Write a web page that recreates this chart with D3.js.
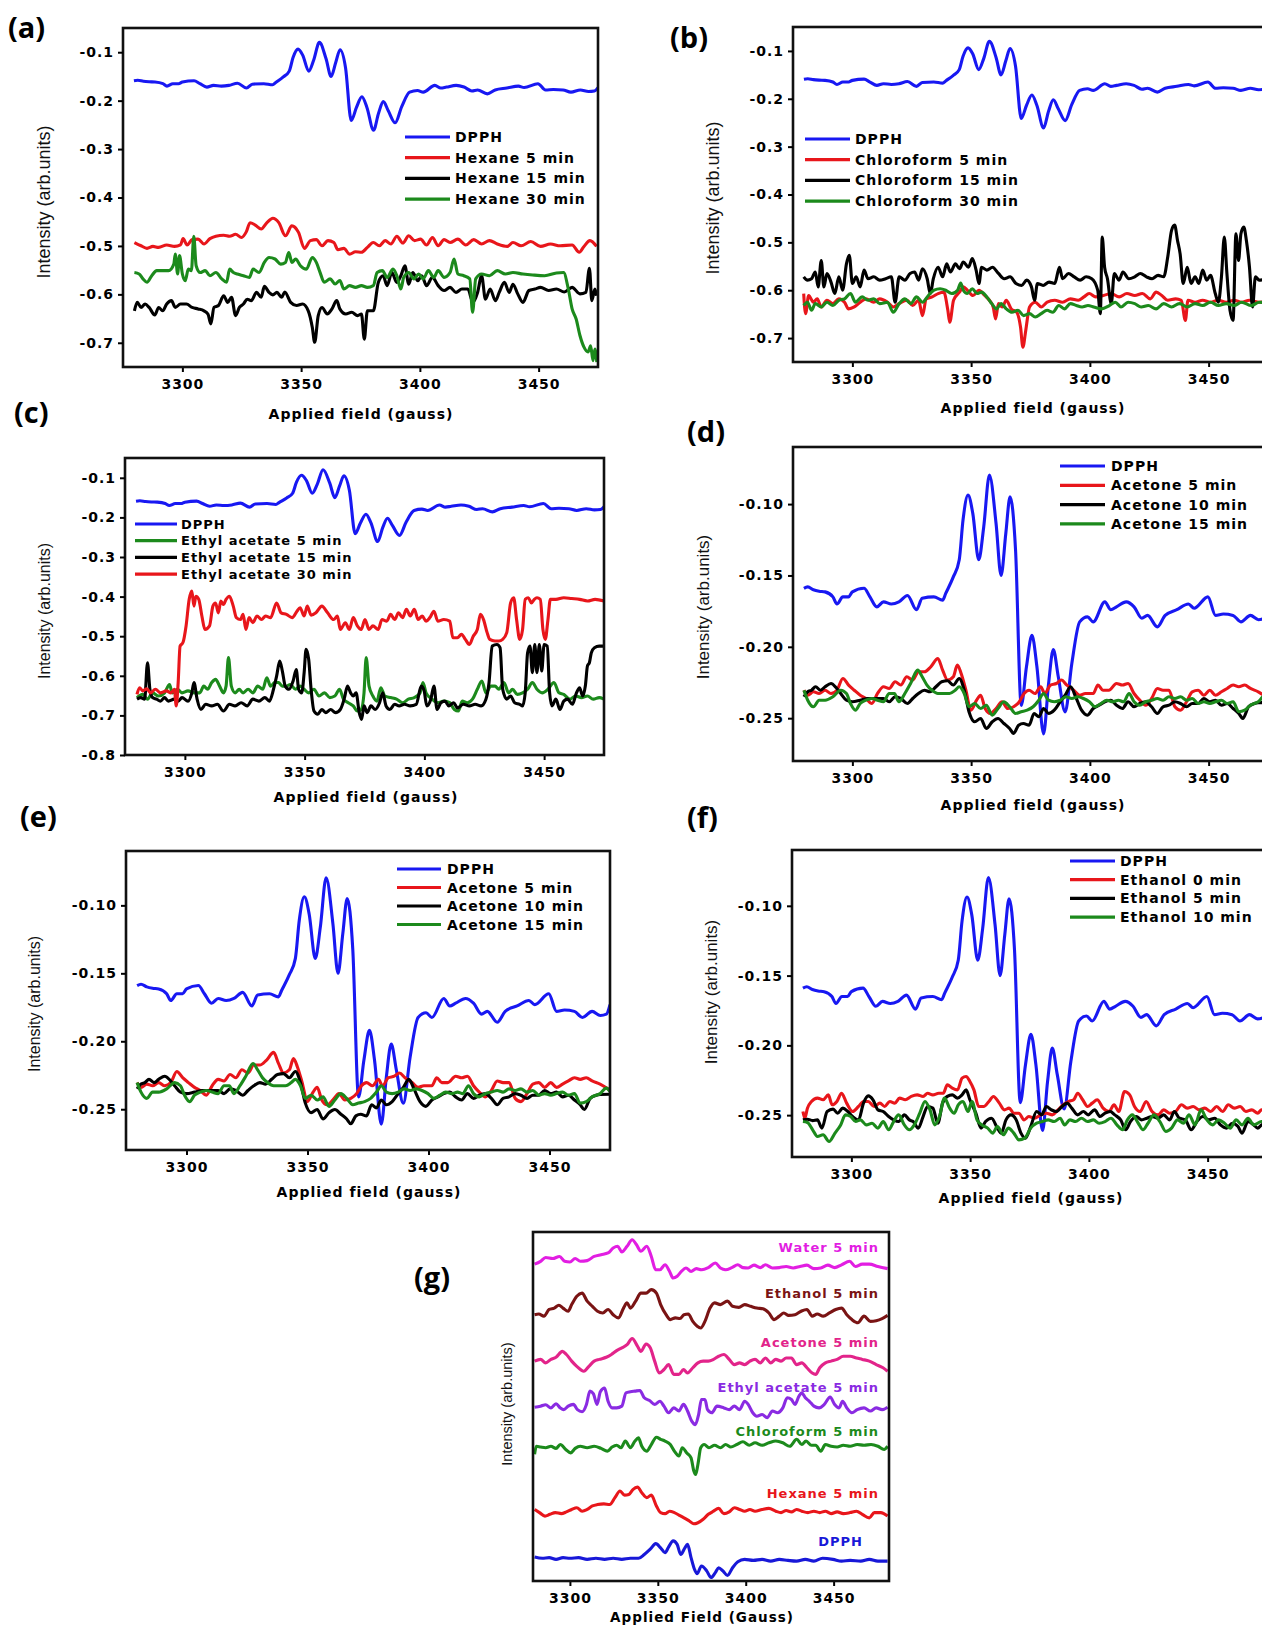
<!DOCTYPE html>
<html>
<head>
<meta charset="utf-8">
<script src="https://cdn.jsdelivr.net/npm/d3@7"></script>
<style>
  body { margin: 0; background: #fff; }
  svg { display: block; }
</style>
</head>
<body>
<svg id="fig" width="1262" height="1628"></svg>
<script>
// ---- data: [field (gauss), intensity] ----
const dpph = [[3279.6,-0.159],[3281.2,-0.158],[3283.6,-0.160],[3286,-0.161],[3288.5,-0.1615],[3291.8,-0.165],[3293.5,-0.170],[3296,-0.165],[3298.4,-0.165],[3300,-0.1615],[3304.9,-0.159],[3307.4,-0.165],[3310.3,-0.172],[3313.1,-0.1685],[3316.4,-0.170],[3319.6,-0.1685],[3323.2,-0.164],[3327,-0.174],[3329.4,-0.166],[3334.3,-0.165],[3338,-0.1673],[3339.3,-0.1626],[3342.5,-0.151],[3345,-0.139],[3346.6,-0.111],[3348.7,-0.0937],[3350.7,-0.1065],[3353.2,-0.139],[3355.3,-0.116],[3357.7,-0.0797],[3360.5,-0.1136],[3362.6,-0.150],[3364.6,-0.1206],[3366.4,-0.0949],[3368.7,-0.132],[3371.1,-0.241],[3373.3,-0.214],[3375.6,-0.192],[3377.7,-0.214],[3380.5,-0.261],[3382.6,-0.226],[3384.6,-0.202],[3386.7,-0.221],[3389.6,-0.2456],[3392.4,-0.2117],[3395.7,-0.1825],[3399,-0.179],[3401.4,-0.1825],[3406.3,-0.1685],[3408.8,-0.174],[3411.2,-0.172],[3415.3,-0.1685],[3418.6,-0.172],[3421.9,-0.180],[3424.3,-0.178],[3428.4,-0.186],[3431.7,-0.178],[3436.6,-0.174],[3441.5,-0.170],[3443.9,-0.173],[3449.7,-0.165],[3452.9,-0.178],[3456.2,-0.177],[3460.3,-0.178],[3463.6,-0.1825],[3467.6,-0.178],[3471,-0.181],[3473.5,-0.180],[3475,-0.173]];

const hexane5 = [[3279.8,-0.493],[3282.6,-0.4997],[3285.1,-0.505],[3287.6,-0.501],[3290,-0.503],[3293.4,-0.498],[3296.7,-0.501],[3299.2,-0.498],[3300.3,-0.485],[3302,-0.498],[3304.1,-0.487],[3306.6,-0.486],[3309.1,-0.496],[3311.6,-0.485],[3314.1,-0.480],[3317.4,-0.478],[3319.9,-0.480],[3322.4,-0.476],[3324.9,-0.4826],[3326.9,-0.471],[3328.5,-0.452],[3330.7,-0.457],[3333.2,-0.465],[3335.6,-0.452],[3338.1,-0.443],[3340.6,-0.452],[3343.4,-0.479],[3346.1,-0.4585],[3348.9,-0.472],[3351.4,-0.505],[3353.9,-0.489],[3356.4,-0.487],[3358.8,-0.4997],[3361.3,-0.489],[3363.8,-0.493],[3365.5,-0.508],[3368,-0.505],[3370.4,-0.517],[3372.9,-0.512],[3375.4,-0.513],[3377.9,-0.503],[3380.4,-0.493],[3382.9,-0.4997],[3385.4,-0.489],[3387.8,-0.496],[3390.3,-0.480],[3392.8,-0.494],[3395.3,-0.479],[3397.8,-0.489],[3400.3,-0.486],[3402.8,-0.498],[3405.3,-0.4826],[3407.7,-0.4997],[3410.2,-0.487],[3412.7,-0.493],[3416,-0.486],[3419.3,-0.498],[3422.7,-0.487],[3426,-0.496],[3429.3,-0.489],[3432.6,-0.496],[3436.8,-0.501],[3439.2,-0.493],[3442.6,-0.4997],[3446.7,-0.491],[3450.8,-0.501],[3455,-0.496],[3459.1,-0.4997],[3464.1,-0.498],[3467.1,-0.513],[3469.1,-0.501],[3471.6,-0.489],[3474.4,-0.501]];

const hexane15 = [[3279.8,-0.634],[3281,-0.6165],[3282.6,-0.627],[3284.3,-0.620],[3286,-0.627],[3288.4,-0.6426],[3290,-0.627],[3291.7,-0.634],[3293.4,-0.620],[3295.4,-0.613],[3297,-0.627],[3299.2,-0.620],[3301.7,-0.620],[3304.1,-0.627],[3306.6,-0.630],[3309.1,-0.634],[3310.8,-0.641],[3312,-0.661],[3313.3,-0.627],[3315.2,-0.623],[3317.4,-0.603],[3319.1,-0.6165],[3320.7,-0.606],[3322.4,-0.644],[3324,-0.627],[3325.7,-0.620],[3327.3,-0.610],[3329,-0.613],[3331.2,-0.596],[3333.2,-0.606],[3334.5,-0.5835],[3336.5,-0.596],[3338.1,-0.601],[3339.8,-0.596],[3341.8,-0.606],[3343.1,-0.595],[3345.6,-0.6165],[3348.1,-0.623],[3350.6,-0.620],[3353,-0.634],[3354.7,-0.668],[3355.7,-0.699],[3357.2,-0.644],[3358.8,-0.627],[3361,-0.6405],[3363,-0.630],[3365,-0.613],[3366.3,-0.630],[3368.8,-0.6405],[3371.3,-0.637],[3373.8,-0.644],[3375.4,-0.6405],[3376.6,-0.6925],[3377.9,-0.634],[3380.4,-0.634],[3382.5,-0.5753],[3384.5,-0.5615],[3386.2,-0.582],[3388.2,-0.555],[3390.3,-0.5753],[3392,-0.5615],[3393.7,-0.541],[3395.3,-0.579],[3397,-0.555],[3399.1,-0.572],[3400.8,-0.5615],[3402.8,-0.582],[3405.3,-0.565],[3407.7,-0.582],[3410.2,-0.592],[3412.7,-0.5856],[3415.2,-0.596],[3417.7,-0.589],[3420.2,-0.589],[3422.3,-0.6165],[3424.3,-0.596],[3426,-0.5615],[3427.6,-0.610],[3429.6,-0.589],[3431.8,-0.613],[3433.4,-0.596],[3435.6,-0.5753],[3437.6,-0.596],[3439.2,-0.579],[3441.2,-0.599],[3443.4,-0.6165],[3445.9,-0.592],[3448.4,-0.589],[3450.8,-0.5856],[3454.2,-0.592],[3457.5,-0.589],[3460.8,-0.595],[3464.1,-0.5856],[3467.4,-0.599],[3469.9,-0.596],[3471.4,-0.546],[3472.4,-0.613],[3473.7,-0.589],[3474.4,-0.603]];

const hexane30 = [[3279.8,-0.555],[3281.8,-0.558],[3283.4,-0.568],[3285.1,-0.575],[3287.1,-0.5615],[3289.2,-0.551],[3291.7,-0.551],[3294.2,-0.551],[3296.4,-0.5375],[3297,-0.517],[3298,-0.558],[3298.8,-0.520],[3300,-0.558],[3301.2,-0.572],[3302.5,-0.548],[3303.8,-0.551],[3304.8,-0.480],[3305.8,-0.541],[3307.5,-0.555],[3309.6,-0.551],[3311.6,-0.5615],[3314.1,-0.555],[3316.6,-0.568],[3318.6,-0.575],[3319.9,-0.548],[3321.5,-0.555],[3323.2,-0.558],[3325.7,-0.5615],[3328.2,-0.565],[3329.8,-0.548],[3332.3,-0.555],[3334.5,-0.534],[3336.5,-0.524],[3339,-0.527],[3341.4,-0.5375],[3343.4,-0.534],[3344.8,-0.5135],[3346.1,-0.534],[3347.7,-0.527],[3349.7,-0.541],[3352.2,-0.548],[3354.7,-0.524],[3356.4,-0.534],[3358,-0.555],[3359.7,-0.575],[3362.2,-0.568],[3364.3,-0.5787],[3366.3,-0.5715],[3368,-0.589],[3370.4,-0.582],[3372.9,-0.5856],[3375.4,-0.582],[3377.9,-0.5856],[3380.4,-0.582],[3382,-0.555],[3384.2,-0.551],[3386.2,-0.565],[3388.7,-0.548],[3390.3,-0.5615],[3392,-0.589],[3393.2,-0.565],[3395.3,-0.555],[3397.5,-0.568],[3399.5,-0.558],[3401.4,-0.568],[3403.6,-0.551],[3405.8,-0.565],[3407.7,-0.551],[3410.2,-0.565],[3412.7,-0.555],[3414.4,-0.527],[3416,-0.558],[3418.5,-0.5615],[3421,-0.568],[3422.2,-0.637],[3423.5,-0.568],[3426,-0.558],[3429.3,-0.5615],[3432.6,-0.551],[3436,-0.558],[3439.2,-0.555],[3443.4,-0.558],[3447.5,-0.560],[3452.5,-0.5615],[3457.5,-0.556],[3460.5,-0.555],[3462.5,-0.589],[3464.1,-0.630],[3465.8,-0.651],[3467.4,-0.685],[3469.1,-0.709],[3470.8,-0.719],[3471.9,-0.706],[3472.9,-0.737],[3473.7,-0.713],[3474.5,-0.740]];

const chloroform5 = [[3279.5,-0.607],[3280.3,-0.649],[3281.6,-0.611],[3283.6,-0.625],[3285.2,-0.618],[3286.9,-0.635],[3289.3,-0.621],[3291.8,-0.628],[3294.3,-0.618],[3296.7,-0.625],[3298.4,-0.639],[3300.8,-0.635],[3303.3,-0.625],[3305.7,-0.618],[3309,-0.625],[3311.5,-0.618],[3314.8,-0.625],[3317.2,-0.635],[3319.7,-0.628],[3323,-0.621],[3325.4,-0.632],[3327.9,-0.621],[3329.5,-0.653],[3331.1,-0.618],[3333.6,-0.614],[3336.1,-0.607],[3338.5,-0.604],[3340.2,-0.642],[3341,-0.667],[3342.6,-0.621],[3345.1,-0.604],[3346.7,-0.593],[3348.4,-0.600],[3350.8,-0.611],[3353.3,-0.600],[3355.7,-0.611],[3357.7,-0.621],[3359.3,-0.635],[3360.3,-0.660],[3361.5,-0.628],[3363.1,-0.635],[3364.8,-0.621],[3366.9,-0.639],[3369.2,-0.646],[3370.8,-0.677],[3371.8,-0.719],[3373,-0.684],[3374.6,-0.635],[3377,-0.625],[3379.5,-0.635],[3382,-0.625],[3385.2,-0.621],[3388.5,-0.625],[3391.8,-0.618],[3395.1,-0.621],[3397.5,-0.614],[3399.7,-0.607],[3402.5,-0.614],[3405.7,-0.611],[3409,-0.607],[3412.3,-0.614],[3415.6,-0.607],[3418.9,-0.611],[3422.1,-0.607],[3425.4,-0.618],[3427.9,-0.604],[3430.3,-0.611],[3432.8,-0.621],[3436.1,-0.618],[3438.5,-0.621],[3440.2,-0.663],[3441.3,-0.621],[3444.3,-0.625],[3447.5,-0.621],[3450.8,-0.625],[3454.1,-0.621],[3457.4,-0.625],[3460.7,-0.621],[3463.9,-0.625],[3467.2,-0.621],[3471.3,-0.625],[3475,-0.623]];

const chloroform15 = [[3279.5,-0.572],[3281.1,-0.579],[3282.8,-0.576],[3284.4,-0.562],[3285.6,-0.593],[3286.9,-0.538],[3288,-0.593],[3289.3,-0.565],[3291,-0.583],[3292.6,-0.607],[3294.3,-0.572],[3295.9,-0.600],[3297.5,-0.545],[3298.7,-0.527],[3300,-0.586],[3301.6,-0.572],[3303.3,-0.593],[3304.9,-0.558],[3306.6,-0.576],[3309,-0.572],[3311.5,-0.579],[3314,-0.576],[3316.4,-0.572],[3318,-0.625],[3319.7,-0.572],[3322.1,-0.579],[3324.3,-0.565],[3326.2,-0.562],[3327.9,-0.579],[3329.5,-0.555],[3331.5,-0.576],[3332.8,-0.607],[3334.1,-0.576],[3336.1,-0.552],[3338,-0.572],[3339.7,-0.545],[3341.3,-0.562],[3343.4,-0.545],[3345.1,-0.555],[3346.7,-0.541],[3348.9,-0.552],[3350.5,-0.534],[3352.1,-0.558],[3353.3,-0.586],[3354.4,-0.552],[3356.6,-0.558],[3359,-0.552],[3361.5,-0.565],[3363.9,-0.576],[3366.4,-0.572],[3368.9,-0.586],[3371.3,-0.590],[3373.4,-0.579],[3375.4,-0.593],[3376.7,-0.621],[3377.9,-0.586],[3380.3,-0.590],[3382.8,-0.583],[3385.2,-0.586],[3387.2,-0.552],[3388.5,-0.576],[3391,-0.565],[3393.4,-0.572],[3395.9,-0.579],[3398.4,-0.572],[3400.8,-0.576],[3403.3,-0.600],[3404.4,-0.649],[3405.2,-0.489],[3406.2,-0.552],[3407.4,-0.576],[3409,-0.628],[3410.3,-0.565],[3412.3,-0.579],[3413.9,-0.562],[3416.4,-0.576],[3418.9,-0.572],[3421.3,-0.565],[3423.8,-0.572],[3426.2,-0.576],[3428.7,-0.569],[3431.1,-0.572],[3432.8,-0.530],[3434.4,-0.475],[3435.7,-0.464],[3436.9,-0.496],[3438,-0.524],[3439.3,-0.586],[3441,-0.552],[3442.6,-0.586],[3444.3,-0.572],[3445.9,-0.586],[3447.5,-0.558],[3449.2,-0.579],[3450.8,-0.569],[3452.8,-0.607],[3454.1,-0.625],[3455.4,-0.572],[3456.6,-0.489],[3457.7,-0.565],[3459,-0.642],[3460.3,-0.663],[3461.5,-0.482],[3462.6,-0.538],[3463.6,-0.482],[3464.8,-0.468],[3465.9,-0.496],[3467.2,-0.552],[3468.5,-0.635],[3469.7,-0.572],[3471.3,-0.579],[3475,-0.576]];

const chloroform30 = [[3279.5,-0.632],[3281.1,-0.625],[3282.8,-0.642],[3284.4,-0.628],[3286.9,-0.635],[3289.3,-0.625],[3291.8,-0.632],[3294.3,-0.621],[3296.7,-0.618],[3299.2,-0.607],[3301.3,-0.625],[3304.1,-0.614],[3306.6,-0.621],[3309,-0.618],[3311.5,-0.628],[3314.8,-0.625],[3317.2,-0.646],[3319.7,-0.628],[3322.1,-0.618],[3324.6,-0.628],[3327,-0.614],[3329.5,-0.625],[3332,-0.611],[3334.4,-0.600],[3336.9,-0.597],[3339.3,-0.600],[3341.8,-0.607],[3344.3,-0.600],[3345.6,-0.585],[3346.7,-0.600],[3348.4,-0.607],[3350.5,-0.597],[3352.5,-0.607],[3354.4,-0.604],[3356.6,-0.614],[3358.7,-0.628],[3360.7,-0.639],[3362.6,-0.628],[3364.8,-0.639],[3367.2,-0.646],[3369.7,-0.642],[3372.1,-0.653],[3374.6,-0.649],[3377,-0.656],[3379.5,-0.649],[3382,-0.642],[3384.4,-0.646],[3386.9,-0.632],[3389.3,-0.639],[3391.8,-0.628],[3394.3,-0.632],[3396.7,-0.635],[3399.2,-0.632],[3401.6,-0.635],[3404.9,-0.639],[3408.2,-0.632],[3410.7,-0.625],[3413.1,-0.635],[3416.1,-0.625],[3418.9,-0.628],[3421.6,-0.635],[3424.6,-0.632],[3427.9,-0.639],[3431.1,-0.628],[3434.4,-0.635],[3437.7,-0.628],[3441,-0.635],[3444.3,-0.628],[3447.5,-0.632],[3450.8,-0.625],[3454.1,-0.632],[3457.4,-0.628],[3460.7,-0.632],[3463.9,-0.625],[3468,-0.632],[3471.3,-0.625],[3475,-0.628]];

const ethylAcetate5 = [[3280,-0.655],[3282.4,-0.647],[3284.4,-0.659],[3286.5,-0.643],[3289,-0.651],[3291.5,-0.643],[3293.6,-0.622],[3294.7,-0.643],[3296.9,-0.634],[3298.8,-0.643],[3301.3,-0.638],[3303.8,-0.643],[3306.2,-0.643],[3307.9,-0.626],[3309.5,-0.634],[3311.2,-0.617],[3312.8,-0.609],[3314.5,-0.626],[3316.1,-0.643],[3317.2,-0.626],[3318.2,-0.554],[3319.4,-0.626],[3321,-0.643],[3322.7,-0.634],[3324.3,-0.643],[3326.4,-0.634],[3328.4,-0.643],[3330.4,-0.626],[3332.5,-0.634],[3334.2,-0.605],[3335.8,-0.626],[3337.5,-0.617],[3339.1,-0.617],[3340.7,-0.626],[3342.4,-0.626],[3344,-0.622],[3346.2,-0.634],[3348.1,-0.626],[3349.8,-0.634],[3351.7,-0.643],[3353.9,-0.634],[3356,-0.651],[3358.3,-0.643],[3360.5,-0.655],[3362.6,-0.651],[3364.6,-0.634],[3366.2,-0.659],[3368.2,-0.668],[3370.3,-0.676],[3372,-0.689],[3373.6,-0.685],[3374.8,-0.643],[3375.7,-0.554],[3376.9,-0.626],[3378.5,-0.651],[3380.2,-0.664],[3381.8,-0.630],[3383.5,-0.651],[3385.9,-0.655],[3388.4,-0.659],[3390.9,-0.668],[3393.3,-0.659],[3395.8,-0.655],[3398.2,-0.643],[3399.4,-0.617],[3400.7,-0.643],[3403.2,-0.659],[3405.6,-0.668],[3408.1,-0.664],[3410.6,-0.668],[3412.5,-0.685],[3414.2,-0.689],[3415.8,-0.664],[3417.9,-0.668],[3420.1,-0.659],[3422.1,-0.634],[3424,-0.613],[3425.7,-0.643],[3427.8,-0.626],[3429.5,-0.626],[3431.1,-0.634],[3433.2,-0.617],[3435.2,-0.643],[3436.8,-0.634],[3438.8,-0.647],[3441,-0.643],[3443.1,-0.634],[3445.1,-0.617],[3447,-0.634],[3449.2,-0.643],[3451.6,-0.634],[3454.1,-0.617],[3456.2,-0.643],[3458.2,-0.647],[3460.7,-0.659],[3463.1,-0.651],[3465.6,-0.655],[3468.1,-0.651],[3470.5,-0.659],[3473,-0.655],[3475,-0.659]];

const ethylAcetate15 = [[3280,-0.659],[3281.6,-0.655],[3283.2,-0.659],[3284.4,-0.567],[3285.4,-0.634],[3286.5,-0.655],[3288.2,-0.659],[3289.8,-0.664],[3291.5,-0.655],[3293.1,-0.664],[3295.6,-0.659],[3297.2,-0.664],[3298.8,-0.655],[3301.3,-0.664],[3302.9,-0.643],[3303.8,-0.617],[3305.1,-0.659],[3306.7,-0.685],[3308.7,-0.672],[3311.2,-0.676],[3313.6,-0.672],[3316.1,-0.689],[3318.6,-0.672],[3321,-0.676],[3323.5,-0.668],[3326,-0.676],[3328.4,-0.659],[3330.9,-0.664],[3333.4,-0.655],[3335.3,-0.664],[3337,-0.634],[3338.3,-0.601],[3339.6,-0.563],[3340.7,-0.588],[3341.9,-0.626],[3343.5,-0.634],[3345.2,-0.613],[3346.5,-0.584],[3347.5,-0.634],[3348.8,-0.643],[3349.8,-0.592],[3350.6,-0.533],[3351.7,-0.559],[3352.7,-0.634],[3353.9,-0.689],[3355.5,-0.697],[3357.2,-0.685],[3358.8,-0.693],[3360.9,-0.685],[3362.9,-0.693],[3364.9,-0.685],[3366.5,-0.659],[3367.9,-0.626],[3369.2,-0.643],[3370.3,-0.651],[3371.5,-0.643],[3372.8,-0.693],[3373.8,-0.710],[3374.8,-0.676],[3376.1,-0.693],[3377.7,-0.676],[3379.4,-0.685],[3381.3,-0.668],[3382.6,-0.643],[3384,-0.676],[3385.6,-0.685],[3387.6,-0.672],[3389.5,-0.676],[3391.7,-0.672],[3394.1,-0.676],[3396.6,-0.672],[3398.7,-0.626],[3399.9,-0.638],[3401,-0.676],[3402.7,-0.659],[3404,-0.626],[3405.3,-0.685],[3406.9,-0.668],[3408.6,-0.664],[3410.2,-0.676],[3412.2,-0.668],[3413.8,-0.681],[3416.3,-0.672],[3418.8,-0.676],[3421.2,-0.672],[3423.7,-0.676],[3425.7,-0.659],[3427,-0.617],[3428.3,-0.525],[3430.3,-0.521],[3431.6,-0.529],[3432.7,-0.634],[3434.4,-0.659],[3436,-0.651],[3437.7,-0.668],[3439.8,-0.672],[3441,-0.676],[3442.1,-0.643],[3443.1,-0.542],[3444.1,-0.525],[3445.1,-0.592],[3446.1,-0.521],[3447,-0.592],[3448,-0.521],[3449,-0.588],[3450,-0.521],[3451.3,-0.525],[3452.3,-0.643],[3453.3,-0.676],[3454.9,-0.659],[3456.6,-0.685],[3458.2,-0.664],[3459.8,-0.659],[3461.8,-0.672],[3463.5,-0.643],[3464.8,-0.630],[3466.1,-0.651],[3467.2,-0.626],[3468.1,-0.575],[3468.9,-0.567],[3469.7,-0.542],[3471,-0.529],[3473,-0.525],[3475,-0.525]];

const ethylAcetate30 = [[3280,-0.647],[3281.1,-0.630],[3282.4,-0.638],[3284.1,-0.633],[3285.7,-0.643],[3287.7,-0.634],[3289.8,-0.643],[3292.3,-0.638],[3294.2,-0.643],[3295.6,-0.634],[3296.4,-0.676],[3297.2,-0.617],[3298,-0.525],[3299.2,-0.516],[3300.5,-0.474],[3301.8,-0.407],[3302.9,-0.386],[3303.8,-0.424],[3304.6,-0.399],[3305.8,-0.407],[3307.1,-0.449],[3308.4,-0.483],[3310.3,-0.474],[3311.7,-0.424],[3312.8,-0.416],[3314,-0.441],[3315,-0.411],[3316.1,-0.420],[3317.2,-0.407],[3318.6,-0.399],[3320.2,-0.424],[3321.5,-0.453],[3323.2,-0.458],[3324.3,-0.445],[3325.5,-0.483],[3326.8,-0.453],[3328.4,-0.466],[3330.1,-0.449],[3332,-0.458],[3333.7,-0.449],[3335.8,-0.453],[3338.3,-0.416],[3340.2,-0.441],[3342.4,-0.445],[3344.8,-0.453],[3346.8,-0.437],[3348.1,-0.428],[3349.8,-0.449],[3351.1,-0.424],[3352.7,-0.447],[3354.7,-0.441],[3357.2,-0.424],[3359.6,-0.441],[3362.1,-0.458],[3363.7,-0.449],[3364.9,-0.483],[3367,-0.466],[3368.7,-0.483],[3370.3,-0.453],[3372,-0.474],[3373.6,-0.483],[3375.2,-0.458],[3376.9,-0.483],[3378.5,-0.474],[3380.7,-0.483],[3382.3,-0.458],[3384.3,-0.462],[3385.9,-0.445],[3387.6,-0.458],[3389.2,-0.441],[3390.9,-0.453],[3392.5,-0.432],[3394.1,-0.449],[3395.8,-0.432],[3397.4,-0.458],[3399.1,-0.449],[3400.7,-0.462],[3402.3,-0.453],[3404,-0.437],[3405.6,-0.462],[3408.1,-0.458],[3410.6,-0.462],[3411.9,-0.504],[3413.8,-0.504],[3415.5,-0.495],[3417.1,-0.508],[3418.8,-0.521],[3420.4,-0.500],[3422.1,-0.483],[3423.4,-0.445],[3424.7,-0.458],[3426.2,-0.491],[3427.3,-0.508],[3429.5,-0.512],[3431.1,-0.512],[3432.7,-0.508],[3434.4,-0.491],[3436,-0.416],[3437.3,-0.403],[3438.5,-0.458],[3439.8,-0.508],[3441,-0.483],[3442.1,-0.407],[3443.4,-0.403],[3444.7,-0.416],[3445.9,-0.407],[3447,-0.403],[3448.4,-0.407],[3449.5,-0.483],[3450.5,-0.508],[3451.6,-0.458],[3452.6,-0.407],[3454.9,-0.407],[3458.2,-0.403],[3461.5,-0.405],[3464.8,-0.407],[3468.1,-0.411],[3471.3,-0.407],[3475,-0.411]];

const acetone5 = [[3279.6,-0.2304],[3281.2,-0.2339],[3283.6,-0.2315],[3286,-0.2327],[3288.5,-0.2304],[3291,-0.2327],[3293.5,-0.2304],[3296,-0.2222],[3298.4,-0.2268],[3300.8,-0.2304],[3303.3,-0.2339],[3305.7,-0.2362],[3308.2,-0.2397],[3310.6,-0.2327],[3313.1,-0.2280],[3315.5,-0.2292],[3318,-0.2245],[3320.4,-0.2268],[3322.9,-0.2210],[3325.4,-0.2233],[3327.8,-0.2175],[3330.3,-0.2175],[3333,-0.2140],[3336,-0.2082],[3338,-0.2163],[3340.1,-0.2233],[3342.5,-0.2210],[3344.2,-0.2128],[3345.8,-0.2187],[3347.8,-0.2304],[3349.9,-0.2444],[3352.3,-0.2374],[3354,-0.2339],[3355.9,-0.2432],[3358.1,-0.2467],[3360.5,-0.2432],[3363,-0.2385],[3365.4,-0.2432],[3367.9,-0.2420],[3370.3,-0.2385],[3372.3,-0.2327],[3374.4,-0.2304],[3376.9,-0.2327],[3379.3,-0.2280],[3381,-0.2327],[3383.4,-0.2268],[3385.9,-0.2257],[3388,-0.2233],[3390.3,-0.2268],[3393.2,-0.2304],[3395.7,-0.2339],[3398.1,-0.2327],[3401.4,-0.2327],[3403.4,-0.2268],[3405.5,-0.2304],[3408,-0.2304],[3411.2,-0.2257],[3413.7,-0.2268],[3416.1,-0.2257],[3418.6,-0.2327],[3421,-0.2374],[3423.5,-0.2409],[3426,-0.2362],[3428.4,-0.2292],[3430.8,-0.2304],[3433.3,-0.2304],[3435.8,-0.2420],[3438.2,-0.2444],[3440.7,-0.2385],[3443.1,-0.2315],[3445.6,-0.2304],[3448,-0.2339],[3450.5,-0.2304],[3452.9,-0.2339],[3455.4,-0.2315],[3457.8,-0.2292],[3460.3,-0.2268],[3462.7,-0.2280],[3465.2,-0.2268],[3467.6,-0.2292],[3470.9,-0.2315],[3475,-0.2360]];

const acetone10 = [[3279.6,-0.2350],[3281.2,-0.2315],[3282.8,-0.2304],[3284.5,-0.2280],[3286.6,-0.2304],[3288.5,-0.2280],[3291,-0.2257],[3293.1,-0.2285],[3295.1,-0.2327],[3297.5,-0.2374],[3300,-0.2385],[3303.3,-0.2374],[3306.5,-0.2362],[3309.8,-0.2362],[3313.1,-0.2362],[3315.5,-0.2385],[3318,-0.2350],[3320.4,-0.2362],[3323.2,-0.2397],[3325.4,-0.2362],[3327.8,-0.2327],[3330.3,-0.2304],[3332.7,-0.2315],[3335.2,-0.2280],[3337.6,-0.2245],[3340.1,-0.2238],[3342.5,-0.2268],[3345,-0.2222],[3347.1,-0.2304],[3349.1,-0.2455],[3351.5,-0.2525],[3354,-0.2502],[3356.4,-0.2572],[3358.9,-0.2525],[3361.3,-0.2502],[3363.8,-0.2537],[3366.2,-0.2572],[3367.9,-0.2607],[3370,-0.2549],[3372,-0.2537],[3374.4,-0.2549],[3376.5,-0.2467],[3378.5,-0.2490],[3380.5,-0.2432],[3382.6,-0.2467],[3385,-0.2444],[3387.5,-0.2385],[3389.6,-0.2339],[3391.9,-0.2280],[3394,-0.2350],[3396.5,-0.2444],[3398.9,-0.2479],[3401.4,-0.2432],[3403.9,-0.2409],[3406.3,-0.2385],[3408.8,-0.2374],[3411.2,-0.2409],[3413.7,-0.2432],[3416.1,-0.2385],[3418.6,-0.2420],[3421,-0.2397],[3423.5,-0.2385],[3426,-0.2420],[3428.4,-0.2467],[3430.8,-0.2420],[3433.3,-0.2409],[3435.8,-0.2385],[3438.2,-0.2397],[3440.7,-0.2420],[3443.1,-0.2397],[3445.6,-0.2397],[3448,-0.2362],[3450.5,-0.2385],[3452.9,-0.2374],[3455.4,-0.2409],[3457.8,-0.2397],[3460.3,-0.2432],[3462.7,-0.2467],[3464.4,-0.2502],[3466.8,-0.2420],[3469.3,-0.2397],[3470.9,-0.2392],[3475,-0.2390]];

const acetone15 = [[3279.6,-0.2304],[3281.2,-0.2374],[3283.6,-0.2420],[3286,-0.2374],[3288.5,-0.2374],[3291.8,-0.2350],[3295.1,-0.2304],[3297.5,-0.2327],[3299.2,-0.2397],[3301.3,-0.2444],[3303.3,-0.2397],[3305.7,-0.2374],[3308.2,-0.2362],[3310.6,-0.2374],[3313.1,-0.2385],[3315.5,-0.2327],[3317.7,-0.2327],[3319.6,-0.2385],[3322.1,-0.2327],[3324.5,-0.2257],[3327.5,-0.2163],[3329.4,-0.2210],[3331.4,-0.2268],[3333.5,-0.2304],[3336,-0.2327],[3338.4,-0.2327],[3340.9,-0.2327],[3343.3,-0.2304],[3345,-0.2280],[3347.1,-0.2327],[3349.1,-0.2420],[3351.5,-0.2397],[3354,-0.2432],[3356.4,-0.2409],[3358.9,-0.2479],[3361.3,-0.2432],[3363.8,-0.2385],[3366.2,-0.2420],[3368.7,-0.2467],[3371.1,-0.2455],[3373.6,-0.2444],[3376.1,-0.2420],[3378.5,-0.2374],[3380.5,-0.2327],[3382.6,-0.2374],[3385,-0.2385],[3387.5,-0.2374],[3390,-0.2350],[3392.4,-0.2362],[3394.9,-0.2350],[3397.3,-0.2362],[3399.8,-0.2385],[3402.2,-0.2420],[3404.7,-0.2397],[3407.1,-0.2374],[3409.6,-0.2385],[3412,-0.2374],[3414.2,-0.2385],[3416.5,-0.2327],[3418.6,-0.2385],[3421,-0.2409],[3423.5,-0.2385],[3426,-0.2374],[3428.4,-0.2362],[3430.8,-0.2374],[3433.3,-0.2350],[3435.8,-0.2362],[3438.2,-0.2350],[3440.7,-0.2374],[3443.1,-0.2362],[3445.6,-0.2397],[3448,-0.2385],[3450.5,-0.2397],[3452.9,-0.2385],[3455.4,-0.2374],[3457.8,-0.2397],[3460.3,-0.2385],[3462.7,-0.2455],[3465.2,-0.2444],[3467.6,-0.2409],[3470.9,-0.2385],[3473.5,-0.2345],[3475,-0.2370]];

const ethanol0 = [[3279.6,-0.2474],[3280.4,-0.2522],[3281.5,-0.2450],[3283.2,-0.2402],[3285.7,-0.2378],[3288.1,-0.2390],[3290.3,-0.2355],[3291.9,-0.2426],[3293.9,-0.2402],[3295.9,-0.2343],[3298,-0.2414],[3300.5,-0.2474],[3303,-0.2438],[3305.1,-0.2402],[3307.1,-0.2402],[3309.6,-0.2438],[3312,-0.2414],[3314,-0.2438],[3316.2,-0.2402],[3318.3,-0.2414],[3320.3,-0.2378],[3322.7,-0.2390],[3325.2,-0.2366],[3327.7,-0.2355],[3330.2,-0.2366],[3332.1,-0.2343],[3334.3,-0.2355],[3336.8,-0.2343],[3338.7,-0.2343],[3340.4,-0.2283],[3342.5,-0.2307],[3344.7,-0.2319],[3346.6,-0.2235],[3348.3,-0.2223],[3349.9,-0.2259],[3351.6,-0.2319],[3353.6,-0.2438],[3355.7,-0.2438],[3357.9,-0.2402],[3359.8,-0.2366],[3362.3,-0.2414],[3364.4,-0.2462],[3366.4,-0.2450],[3368.4,-0.2486],[3370.5,-0.2486],[3372.7,-0.2534],[3374.7,-0.2510],[3377.1,-0.2522],[3379.6,-0.2498],[3382.1,-0.2486],[3384.6,-0.2498],[3387,-0.2462],[3389.2,-0.2426],[3391.5,-0.2402],[3393.6,-0.2390],[3395.3,-0.2343],[3397.4,-0.2390],[3399.4,-0.2438],[3401.4,-0.2414],[3403.5,-0.2390],[3406,-0.2450],[3408.5,-0.2474],[3410.6,-0.2426],[3412.6,-0.2474],[3415,-0.2331],[3417.2,-0.2355],[3419.2,-0.2438],[3421.6,-0.2474],[3424.1,-0.2402],[3426.6,-0.2474],[3429.1,-0.2498],[3431.5,-0.2462],[3434,-0.2486],[3436.5,-0.2474],[3439,-0.2426],[3441.4,-0.2450],[3443.9,-0.2438],[3446.4,-0.2462],[3448.8,-0.2450],[3451.3,-0.2474],[3453.8,-0.2438],[3456.3,-0.2474],[3458.7,-0.2426],[3461.2,-0.2450],[3463.7,-0.2438],[3466.1,-0.2474],[3468.6,-0.2462],[3471.1,-0.2486],[3472.7,-0.2462],[3475,-0.2470]];

const ethanol5 = [[3279.6,-0.2534],[3281.5,-0.2529],[3283.7,-0.2539],[3285.7,-0.2534],[3287.6,-0.2593],[3289.8,-0.2474],[3292.3,-0.2457],[3294.2,-0.2486],[3296.4,-0.2450],[3298.5,-0.2474],[3300.5,-0.2510],[3303,-0.2534],[3305.1,-0.2414],[3307.1,-0.2362],[3309.1,-0.2390],[3311.2,-0.2462],[3313.4,-0.2474],[3315.7,-0.2510],[3317.8,-0.2534],[3319.9,-0.2546],[3322.3,-0.2498],[3324.4,-0.2534],[3326,-0.2546],[3328.2,-0.2593],[3330.2,-0.2510],[3332.1,-0.2438],[3334.3,-0.2450],[3336.4,-0.2558],[3338.4,-0.2414],[3340.4,-0.2366],[3342.5,-0.2355],[3344.7,-0.2378],[3346.6,-0.2355],[3348.3,-0.2319],[3349.9,-0.2390],[3352.4,-0.2486],[3354.6,-0.2593],[3356.5,-0.2546],[3359,-0.2522],[3361.5,-0.2593],[3363.1,-0.2629],[3365.1,-0.2534],[3367.2,-0.2498],[3369.4,-0.2534],[3371.4,-0.2629],[3373.3,-0.2665],[3375.5,-0.2582],[3378,-0.2474],[3380.1,-0.2498],[3382.1,-0.2438],[3384.2,-0.2462],[3386.2,-0.2474],[3388.7,-0.2438],[3390.8,-0.2414],[3392.8,-0.2450],[3395.3,-0.2498],[3397.7,-0.2474],[3399.7,-0.2498],[3402.4,-0.2462],[3404.7,-0.2510],[3406.8,-0.2486],[3409,-0.2474],[3410.9,-0.2498],[3413.4,-0.2534],[3415.5,-0.2605],[3417.5,-0.2546],[3420,-0.2510],[3422.1,-0.2534],[3424.4,-0.2522],[3426.6,-0.2510],[3429.1,-0.2522],[3431.5,-0.2498],[3434,-0.2534],[3436,-0.2474],[3438.1,-0.2522],[3440.6,-0.2534],[3443.1,-0.2605],[3445.5,-0.2546],[3448,-0.2510],[3450.5,-0.2534],[3453,-0.2522],[3455.4,-0.2570],[3457.9,-0.2593],[3460.4,-0.2558],[3462.8,-0.2582],[3464.5,-0.2629],[3467,-0.2546],[3469.4,-0.2570],[3471.1,-0.2593],[3472.7,-0.2570],[3475,-0.2560]];

const ethanol10 = [[3279.6,-0.2546],[3281.5,-0.2553],[3283.7,-0.2605],[3285.7,-0.2653],[3288.1,-0.2641],[3290.6,-0.2689],[3293.1,-0.2629],[3295.5,-0.2570],[3297.5,-0.2498],[3299.7,-0.2510],[3301.8,-0.2546],[3303.8,-0.2534],[3306.3,-0.2570],[3308.7,-0.2558],[3311.2,-0.2593],[3313.4,-0.2546],[3315.7,-0.2605],[3317.8,-0.2546],[3319.9,-0.2498],[3322.3,-0.2570],[3324.4,-0.2605],[3326.5,-0.2570],[3328.8,-0.2486],[3331,-0.2402],[3333.1,-0.2462],[3335.1,-0.2570],[3337.1,-0.2510],[3339.2,-0.2378],[3341.4,-0.2450],[3343.3,-0.2486],[3345,-0.2426],[3347,-0.2402],[3349.1,-0.2474],[3350.8,-0.2402],[3352.9,-0.2534],[3354.9,-0.2570],[3357.4,-0.2593],[3359.5,-0.2629],[3361.5,-0.2582],[3364,-0.2641],[3366.1,-0.2593],[3368.4,-0.2629],[3370.5,-0.2677],[3373,-0.2665],[3375.5,-0.2593],[3378,-0.2558],[3380.4,-0.2546],[3382.9,-0.2534],[3385.4,-0.2546],[3387.9,-0.2522],[3389.8,-0.2570],[3392,-0.2534],[3394.4,-0.2546],[3396.9,-0.2522],[3399.4,-0.2546],[3401.9,-0.2534],[3404.3,-0.2558],[3406.8,-0.2546],[3409.3,-0.2522],[3411.8,-0.2570],[3414.2,-0.2605],[3416.2,-0.2534],[3418.3,-0.2498],[3420.8,-0.2558],[3422.8,-0.2605],[3424.9,-0.2558],[3427.4,-0.2498],[3429.9,-0.2546],[3432.4,-0.2617],[3434.8,-0.2593],[3437.3,-0.2534],[3439.8,-0.2558],[3442.2,-0.2498],[3444.7,-0.2570],[3447.2,-0.2462],[3449.7,-0.2534],[3452.1,-0.2570],[3454.6,-0.2534],[3457.1,-0.2558],[3459.5,-0.2593],[3462,-0.2534],[3464.5,-0.2570],[3467,-0.2522],[3469.4,-0.2570],[3472.7,-0.2546],[3475,-0.2550]];

// panel (g): stacked traces, arbitrary units (0 = bottom of frame, 10 = top)
const gWater = [[3279.9,9.08],[3283.3,9.16],[3286.2,9.27],[3290.2,9.24],[3294.1,9.30],[3297,9.16],[3300,9.14],[3303,9.24],[3305.9,9.16],[3309.8,9.18],[3313.8,9.30],[3317.7,9.35],[3321.7,9.40],[3324.6,9.54],[3327.2,9.59],[3329.5,9.43],[3332.5,9.59],[3335.4,9.78],[3337.8,9.64],[3340.4,9.45],[3343.7,9.59],[3346.3,9.30],[3348.8,8.92],[3351.2,8.92],[3354.1,9.06],[3356.7,8.87],[3358.7,8.68],[3361,8.73],[3363.4,8.87],[3366,8.97],[3368.9,8.87],[3371.9,8.95],[3374.8,8.92],[3378.7,8.98],[3382.7,9.11],[3385.6,8.97],[3388.6,8.92],[3392.1,8.98],[3395.5,9.06],[3398.4,8.98],[3401.4,8.97],[3404.7,9.05],[3408.3,8.98],[3411.2,9.06],[3415.2,8.97],[3419.1,8.98],[3423,9.01],[3427,8.97],[3430.9,9.01],[3434.8,9.05],[3438.8,8.95],[3442.7,8.97],[3446.7,9.05],[3450.6,8.98],[3454.5,9.06],[3459.1,9.16],[3462.4,9.01],[3466.3,9.08],[3470.3,9.08],[3475.2,9.01],[3480.7,8.95]];

const gEthanol = [[3279.9,7.63],[3282.3,7.65],[3285.2,7.59],[3288.2,7.78],[3291.1,7.82],[3293.7,7.90],[3296.1,7.82],[3299,7.73],[3301,7.92],[3303.9,8.16],[3306.9,8.25],[3309.8,8.02],[3312.8,7.87],[3315.7,7.73],[3318.7,7.68],[3321.7,7.78],[3324.6,7.63],[3327.6,7.54],[3330.5,7.82],[3332.5,7.97],[3334.4,7.82],[3337.4,8.02],[3340.4,8.25],[3343.3,8.25],[3346.3,8.35],[3349.2,8.25],[3351.6,7.92],[3354.7,7.63],[3357.1,7.49],[3360,7.54],[3362.6,7.52],[3364.9,7.63],[3367.3,7.65],[3369.9,7.44],[3372.4,7.30],[3374.4,7.25],[3376.8,7.44],[3379.7,7.82],[3382.3,7.97],[3385.6,7.92],[3389.6,8.02],[3392.5,7.87],[3396.1,7.84],[3399.4,7.92],[3402.8,7.87],[3406.3,7.82],[3409.8,7.80],[3413.2,7.68],[3416.1,7.49],[3419.1,7.59],[3421.7,7.68],[3424.4,7.61],[3428,7.63],[3431.5,7.73],[3434.8,7.78],[3437.8,7.59],[3440.7,7.65],[3444.1,7.59],[3447.6,7.68],[3451.2,7.78],[3454.5,7.82],[3457.5,7.63],[3460.4,7.49],[3463.8,7.40],[3467.3,7.59],[3470.9,7.44],[3474.2,7.46],[3477.6,7.52],[3480.7,7.61]];

const gAcetone = [[3279.9,6.30],[3283.3,6.35],[3286.2,6.25],[3289.2,6.35],[3292.1,6.41],[3295.7,6.58],[3298,6.49],[3301,6.30],[3303.9,6.15],[3307.9,6.01],[3310.8,6.15],[3313.8,6.30],[3316.7,6.35],[3320.7,6.41],[3323.6,6.49],[3326.6,6.60],[3329.5,6.68],[3332.5,6.77],[3335.4,6.95],[3338.4,6.73],[3340.4,6.58],[3343.3,6.79],[3345.7,6.68],[3348.2,6.30],[3350.8,5.96],[3353.5,6.06],[3356.1,6.20],[3359.1,5.92],[3362,5.92],[3364.6,6.06],[3366.9,5.96],[3369.9,6.11],[3372.8,6.25],[3375.8,6.30],[3378.7,6.30],[3381.7,6.35],[3384.6,6.44],[3387.6,6.49],[3390.6,6.35],[3393.5,6.20],[3396.5,6.25],[3399.4,6.20],[3402.4,6.30],[3405.3,6.35],[3408.3,6.25],[3411.2,6.39],[3414.2,6.25],[3417.1,6.35],[3420.1,6.30],[3423,6.39],[3426,6.39],[3428.9,6.20],[3431.9,6.25],[3434.8,6.11],[3437.8,5.96],[3439.8,5.92],[3442.1,6.11],[3445.3,6.25],[3448.6,6.30],[3452,6.35],[3455.5,6.44],[3459.4,6.44],[3463,6.39],[3466.3,6.35],[3470.3,6.30],[3474.2,6.20],[3478.1,6.11],[3480.7,6.01]];

const gEthylAcetate = [[3279.9,4.98],[3283.3,5.01],[3286.2,5.05],[3289.2,4.96],[3292.1,5.08],[3294.5,4.96],[3296.5,4.91],[3299,5.01],[3302,5.06],[3304.3,4.91],[3306.9,4.85],[3309.4,5.06],[3311.4,5.44],[3313.4,5.36],[3315.4,5.06],[3317.3,5.42],[3319.7,5.53],[3321.7,5.15],[3324,4.96],[3326.6,4.96],[3329.5,5.01],[3331.9,5.39],[3334.4,5.42],[3337,5.44],[3339.8,5.46],[3342.3,5.25],[3345.3,5.17],[3348.2,5.06],[3351.2,5.15],[3353.5,5.01],[3356.1,4.82],[3359.1,4.96],[3362,4.87],[3364.6,5.06],[3366.9,4.87],[3369.3,4.58],[3371.3,4.48],[3373.2,4.77],[3374.8,5.20],[3376.8,5.20],[3378.3,4.91],[3380.7,4.82],[3383.7,5.01],[3387.6,4.96],[3390.6,4.91],[3393.5,5.01],[3396.5,4.91],[3399.4,5.15],[3401.4,5.06],[3404,4.82],[3406.3,4.72],[3409.3,4.77],[3412.2,4.68],[3415.2,4.87],[3418.1,4.82],[3421.1,4.96],[3423.6,5.25],[3426,5.20],[3428,5.06],[3430.3,5.30],[3431.9,5.39],[3433.9,5.25],[3436.2,5.15],[3438.8,5.01],[3441.7,4.96],[3444.7,5.06],[3448,5.27],[3450.6,5.06],[3453.1,4.96],[3455.1,5.15],[3457.5,4.96],[3460.4,4.82],[3463.4,4.91],[3467.3,4.96],[3470.9,4.87],[3474.2,4.96],[3477.6,4.91],[3480.7,4.98]];

const gChloroform = [[3279.9,3.63],[3280.9,3.86],[3283.3,3.84],[3286.2,3.82],[3289.2,3.86],[3292.1,3.80],[3294.5,3.91],[3297.6,3.77],[3300.4,3.67],[3303,3.80],[3305.9,3.86],[3309.8,3.82],[3313.8,3.86],[3317.7,3.80],[3321.3,3.72],[3324,3.84],[3326.6,3.89],[3329.1,3.82],[3331.5,4.01],[3334.4,3.82],[3337,4.01],[3339,4.10],[3340.9,3.86],[3343.7,3.72],[3346.3,3.91],[3349.2,4.12],[3351.6,4.06],[3354.1,4.01],[3357.1,3.91],[3359.4,3.72],[3362,3.58],[3363.9,3.82],[3366.5,3.67],[3368.9,3.53],[3370.5,3.15],[3371.5,3.05],[3372.8,3.34],[3374.4,3.82],[3376.4,3.91],[3379.1,3.82],[3382.3,3.89],[3385.6,3.82],[3388.6,3.91],[3391.5,3.84],[3394.9,3.91],[3398.4,3.99],[3402,3.89],[3405.3,3.96],[3409.3,3.89],[3413.2,3.96],[3417.1,4.01],[3421.1,3.96],[3425,3.86],[3429,4.06],[3431.9,3.91],[3434.3,4.01],[3437.4,3.89],[3439.8,3.89],[3442.7,3.72],[3445.3,3.91],[3448.6,3.86],[3452,3.84],[3455.5,3.89],[3459.4,3.86],[3463.4,3.91],[3467.3,3.89],[3471.3,3.91],[3475.2,3.86],[3478.7,3.77],[3480.7,3.86]];

const gHexane = [[3279.9,2.05],[3282.7,1.96],[3285.8,1.86],[3288.6,1.91],[3291.7,1.96],[3295.1,1.93],[3298,1.98],[3301,2.05],[3303.9,2.10],[3306.9,2.00],[3309.8,2.05],[3312.8,2.15],[3315.7,2.19],[3319.3,2.21],[3322.6,2.19],[3325.6,2.39],[3328.5,2.58],[3331.1,2.46],[3333.5,2.48],[3335.8,2.62],[3338.4,2.69],[3340.9,2.53],[3343.7,2.39],[3346.3,2.46],[3349.2,2.15],[3351.6,1.96],[3354.1,1.93],[3356.7,2.00],[3359.4,1.96],[3362,1.89],[3364.9,1.81],[3367.9,1.72],[3370.5,1.64],[3372.8,1.67],[3375.8,1.77],[3378.7,1.91],[3381.7,2.00],[3384.6,2.08],[3387.6,1.93],[3390.6,1.98],[3393.5,2.10],[3396.5,2.05],[3399.4,2.00],[3402.4,2.05],[3405.3,2.00],[3409.3,2.05],[3413.2,2.08],[3417.1,2.00],[3420.1,1.96],[3423,2.02],[3426,1.98],[3428.9,2.05],[3431.9,2.00],[3435.4,1.96],[3438.8,2.00],[3442.1,1.96],[3445.3,2.00],[3448.6,1.93],[3452,1.98],[3455.5,1.93],[3459.4,1.96],[3463,2.00],[3466.3,1.91],[3470.3,1.81],[3473.2,1.96],[3476.8,1.96],[3480.7,1.86]];

const gDpph = [[3279.9,0.69],[3284.3,0.65],[3288.2,0.67],[3292.1,0.62],[3296.1,0.67],[3300,0.65],[3304.9,0.67],[3309.8,0.62],[3314.8,0.65],[3319.7,0.62],[3324.6,0.65],[3329.5,0.62],[3334.4,0.65],[3339,0.65],[3342.3,0.76],[3345.7,0.91],[3348.8,1.07],[3351.6,0.95],[3354.1,0.81],[3356.1,0.97],[3358.7,1.15],[3361,1.05],[3363,0.76],[3365.4,0.95],[3366.9,1.05],[3368.9,0.67],[3370.9,0.33],[3372.4,0.21],[3374.8,0.43],[3377.8,0.29],[3380.3,0.10],[3382.7,0.24],[3384.6,0.38],[3387,0.29],[3389.6,0.16],[3392.5,0.38],[3395.5,0.55],[3399.4,0.62],[3404.3,0.59],[3409.3,0.62],[3414.2,0.57],[3419.1,0.62],[3424,0.59],[3428.9,0.57],[3433.9,0.62],[3438.8,0.57],[3443.7,0.65],[3449.6,0.62],[3454.5,0.57],[3459.4,0.59],[3465.4,0.57],[3470.3,0.62],[3475.2,0.57],[3480.7,0.57]];

// ---- ticks and labels ----
const xTicks = [3300, 3350, 3400, 3450];
const yTicksWide = [-0.7, -0.6, -0.5, -0.4, -0.3, -0.2, -0.1];
const yTicksC = [-0.8, -0.7, -0.6, -0.5, -0.4, -0.3, -0.2, -0.1];
const yTicksNarrow = [-0.25, -0.20, -0.15, -0.10];
const xTitle = "Applied field (gauss)";
const xTitleG = "Applied Field (Gauss)";
const yTitle = "Intensity (arb.units)";

const BLUE = "#1818f2", RED = "#e8161b", BLACK = "#000000", GREEN = "#1c8a1c";
const FONT = "'DejaVu Sans', Verdana, sans-serif";
const LINE_W = 3.1;

const panels = [
  { tag: "(a)", tagXY: [8, 38], box: [123, 598, 28, 367], yDom: [-0.75, -0.05], yTicks: yTicksWide, dec: 1,
    yTitleXY: [44, 202], yTitleSize: 18, xTitleXY: [361, 419],
    legend: { x0: 405, x1: 450, tx: 455, y0: 137, dy: 20.7, size: 14 },
    series: [
      { data: dpph, color: BLUE, label: "DPPH" },
      { data: hexane5, color: RED, label: "Hexane 5 min" },
      { data: hexane15, color: BLACK, label: "Hexane 15 min" },
      { data: hexane30, color: GREEN, label: "Hexane 30 min" }] },
  { tag: "(b)", tagXY: [670, 48], box: [793, 1268, 27, 362], yDom: [-0.75, -0.05], yTicks: yTicksWide, dec: 1,
    yTitleXY: [713, 198], yTitleSize: 18, xTitleXY: [1033, 413],
    legend: { x0: 805, x1: 850, tx: 855, y0: 139, dy: 20.7, size: 14 },
    series: [
      { data: dpph, color: BLUE, label: "DPPH" },
      { data: chloroform5, color: RED, label: "Chloroform 5 min" },
      { data: chloroform15, color: BLACK, label: "Chloroform 15 min" },
      { data: chloroform30, color: GREEN, label: "Chloroform 30 min" }] },
  { tag: "(c)", tagXY: [14, 423], box: [125, 604, 458, 755], yDom: [-0.8, -0.05], yTicks: yTicksC, dec: 1,
    yTitleXY: [44, 611], yTitleSize: 16, xTitleXY: [366, 802],
    legend: { x0: 135, x1: 177, tx: 181, y0: 524, dy: 16.7, size: 13 },
    series: [
      { data: dpph, color: BLUE, label: "DPPH" },
      { data: ethylAcetate5, color: GREEN, label: "Ethyl acetate 5 min" },
      { data: ethylAcetate15, color: BLACK, label: "Ethyl acetate 15 min" },
      { data: ethylAcetate30, color: RED, label: "Ethyl acetate 30 min" }] },
  { tag: "(d)", tagXY: [687, 442], box: [793, 1268, 447, 761], yDom: [-0.28, -0.06], yTicks: yTicksNarrow, dec: 2,
    yTitleXY: [703, 607], yTitleSize: 17, xTitleXY: [1033, 810],
    legend: { x0: 1060, x1: 1105, tx: 1111, y0: 466, dy: 19.3, size: 14 },
    series: [
      { data: dpph, color: BLUE, label: "DPPH" },
      { data: acetone5, color: RED, label: "Acetone 5 min" },
      { data: acetone10, color: BLACK, label: "Acetone 10 min" },
      { data: acetone15, color: GREEN, label: "Acetone 15 min" }] },
  { tag: "(e)", tagXY: [20, 827], box: [126, 610, 851, 1150], yDom: [-0.28, -0.06], yTicks: yTicksNarrow, dec: 2,
    yTitleXY: [34, 1004], yTitleSize: 16, xTitleXY: [369, 1197],
    legend: { x0: 397, x1: 441, tx: 447, y0: 869, dy: 18.5, size: 14 },
    series: [
      { data: dpph, color: BLUE, label: "DPPH" },
      { data: acetone5, color: RED, label: "Acetone 5 min" },
      { data: acetone10, color: BLACK, label: "Acetone 10 min" },
      { data: acetone15, color: GREEN, label: "Acetone 15 min" }] },
  { tag: "(f)", tagXY: [687, 828], box: [792, 1267, 850, 1157], yDom: [-0.28, -0.06], yTicks: yTicksNarrow, dec: 2,
    yTitleXY: [711, 992], yTitleSize: 17, xTitleXY: [1031, 1203],
    legend: { x0: 1070, x1: 1115, tx: 1120, y0: 861, dy: 18.7, size: 14 },
    series: [
      { data: dpph, color: BLUE, label: "DPPH" },
      { data: ethanol0, color: RED, label: "Ethanol 0 min" },
      { data: ethanol5, color: BLACK, label: "Ethanol 5 min" },
      { data: ethanol10, color: GREEN, label: "Ethanol 10 min" }] }
];

const svg = d3.select("#fig");
const defs = svg.append("defs");

function styleText(sel, size, weight) {
  return sel.attr("font-family", FONT).attr("font-size", size)
    .attr("font-weight", weight || "bold").style("letter-spacing", "1px").attr("fill", "#000");
}

function frame(p, x, y, id) {
  const [x0, x1, y0, y1] = p.box;
  defs.append("clipPath").attr("id", "clip-" + id)
    .append("rect").attr("x", x0).attr("y", y0).attr("width", x1 - x0).attr("height", y1 - y0);

  const line = d3.line().x(d => x(d[0])).y(d => y(d[1])).curve(d3.curveMonotoneX);
  const g = svg.append("g");
  p.series.forEach(s => {
    g.append("path").datum(s.data)
      .attr("clip-path", `url(#clip-${id})`)
      .attr("fill", "none").attr("stroke", s.color)
      .attr("stroke-width", LINE_W).attr("stroke-linejoin", "round")
      .attr("d", line);
  });

  // x axis
  const xa = svg.append("g").attr("transform", `translate(0,${y1})`)
    .call(d3.axisBottom(x).tickValues(xTicks).tickSize(5).tickPadding(7).tickFormat(d3.format("d")));
  xa.select(".domain").remove();
  xa.selectAll(".tick line").attr("stroke-width", 2);
  styleText(xa.selectAll(".tick text"), 14);

  svg.append("rect").attr("x", x0).attr("y", y0)
    .attr("width", x1 - x0).attr("height", y1 - y0)
    .attr("fill", "none").attr("stroke", "#111").attr("stroke-width", 2.6);

  styleText(svg.append("text"), 29, "bold")
    .attr("font-family", "'Open Sans', sans-serif").style("letter-spacing", "0px")
    .attr("x", p.tagXY[0]).attr("y", p.tagXY[1]).text(p.tag);

  svg.append("text").attr("transform", `translate(${p.yTitleXY[0]},${p.yTitleXY[1]}) rotate(-90)`)
    .attr("text-anchor", "middle").attr("dy", "0.35em")
    .attr("font-family", "'Liberation Sans', Arial, sans-serif").attr("font-size", p.yTitleSize)
    .attr("fill", "#111").text(yTitle);
}

panels.forEach((p, i) => {
  const x = d3.scaleLinear().domain([3275, 3475]).range([p.box[0], p.box[1]]);
  const y = d3.scaleLinear().domain(p.yDom).range([p.box[3], p.box[2]]);
  frame(p, x, y, i);

  const ya = svg.append("g").attr("transform", `translate(${p.box[0]},0)`)
    .call(d3.axisLeft(y).tickValues(p.yTicks).tickSize(5).tickPadding(4)
      .tickFormat(v => v.toFixed(p.dec)));
  ya.select(".domain").remove();
  ya.selectAll(".tick line").attr("stroke-width", 2);
  styleText(ya.selectAll(".tick text"), 14);

  styleText(svg.append("text"), 14).attr("x", p.xTitleXY[0]).attr("y", p.xTitleXY[1])
    .attr("text-anchor", "middle").text(xTitle);

  const L = p.legend;
  p.series.forEach((s, k) => {
    const yy = L.y0 + k * L.dy;
    svg.append("line").attr("x1", L.x0).attr("x2", L.x1).attr("y1", yy).attr("y2", yy)
      .attr("stroke", s.color).attr("stroke-width", 3.2);
    styleText(svg.append("text"), L.size).attr("x", L.tx).attr("y", yy).attr("dy", "0.36em").text(s.label);
  });
});

// ---- panel (g) ----
const pg = {
  tag: "(g)", tagXY: [414, 1288], box: [533, 889, 1232, 1581],
  yTitleXY: [507, 1404], yTitleSize: 14.5,
  series: [
    { data: gWater, color: "#e21ee2", label: "Water 5 min", ly: 1247 },
    { data: gEthanol, color: "#7a1414", label: "Ethanol 5 min", ly: 1293 },
    { data: gAcetone, color: "#e2248a", label: "Acetone 5 min", ly: 1342 },
    { data: gEthylAcetate, color: "#8a2be2", label: "Ethyl acetate 5 min", ly: 1387 },
    { data: gChloroform, color: "#1c8a1c", label: "Chloroform 5 min", ly: 1431 },
    { data: gHexane, color: "#e8161b", label: "Hexane 5 min", ly: 1493 },
    { data: gDpph, color: "#1818d8", label: "DPPH", ly: 1541, lx: 863 }]
};
const xg = d3.scaleLinear().domain([3279, 3481.5]).range([pg.box[0], pg.box[1]]);
const yg = d3.scaleLinear().domain([0, 10]).range([pg.box[3], pg.box[2]]);
frame(pg, xg, yg, "g");
styleText(svg.append("text"), 13.5).attr("x", 702).attr("y", 1622)
  .attr("text-anchor", "middle").text(xTitleG);
pg.series.forEach(s => {
  styleText(svg.append("text"), 13).attr("x", s.lx || 879).attr("y", s.ly).attr("dy", "0.36em")
    .attr("text-anchor", "end").attr("fill", s.color).text(s.label);
});
</script>
</body>
</html>
